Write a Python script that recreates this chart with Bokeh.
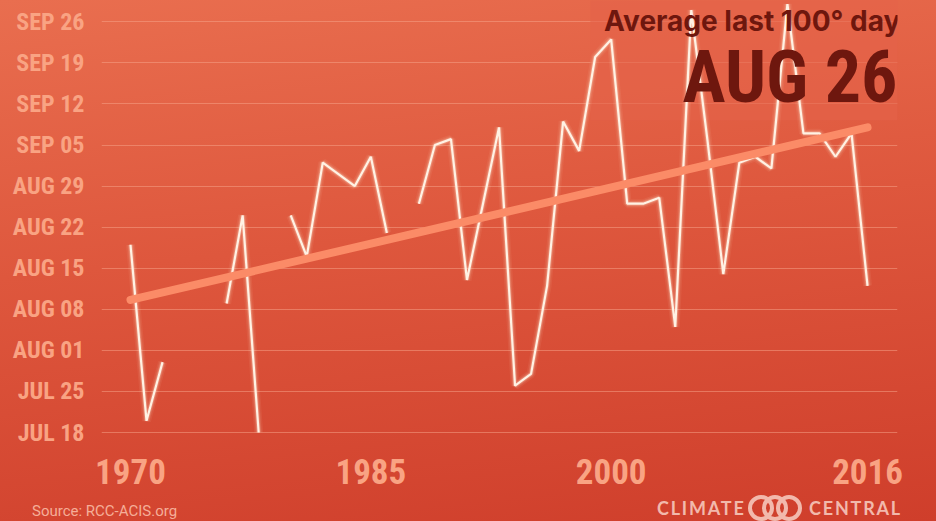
from datetime import datetime

import numpy as np
from bokeh.embed import file_html
from bokeh.layouts import column
from bokeh.models import BoxAnnotation, ColumnDataSource, Div, FixedTicker, Label, Range1d
from bokeh.plotting import figure
from bokeh.resources import INLINE

# Date of the last 100-degree day of each year (None = no 100-degree day recorded)
years = list(range(1970, 2017))
last_100_dates = [
    "Aug 19", "Jul 20", "Jul 30", None, None, None, "Aug 09", "Aug 24", "Jul 18", None,
    "Aug 24", "Aug 17", "Sep 02", "Aug 31", "Aug 29", "Sep 03", "Aug 21", None, "Aug 26", "Sep 05",
    "Sep 06", "Aug 13", "Aug 26", "Sep 08", "Jul 26", "Jul 28", "Aug 12", "Sep 09", "Sep 04", "Sep 20",
    "Sep 23", "Aug 26", "Aug 26", "Aug 27", "Aug 05", "Sep 28", "Sep 06", "Aug 14", "Sep 02", "Sep 03",
    "Sep 01", "Sep 29", "Sep 07", "Sep 07", "Sep 03", "Sep 07", "Aug 12",
]

# Linear trend, start and end of the period
trend_years = [1970, 2016]
trend_dates = ["Aug 09.6", "Sep 08.0"]

tick_labels = ["JUL 18", "JUL 25", "AUG 01", "AUG 08", "AUG 15", "AUG 22",
               "AUG 29", "SEP 05", "SEP 12", "SEP 19", "SEP 26"]
year_ticks = [1970, 1985, 2000, 2016]

average_label = "AUG 26"


def day_of_year(s):
    """'Aug 19' -> day of year in a non-leap year; fractional days allowed."""
    if s is None:
        return np.nan
    mon, day = s.split()
    base = datetime.strptime(f"2015 {mon} 01", "%Y %b %d").timetuple().tm_yday
    return base + float(day) - 1


days = [day_of_year(s) for s in last_100_dates]
trend_days = [day_of_year(s) for s in trend_dates]
tick_days = [day_of_year(s.title()) for s in tick_labels]

src = ColumnDataSource(dict(year=years, day=days))
trend_src = ColumnDataSource(dict(year=trend_years, day=trend_days))

COND_FONT = "Roboto Condensed"
LABEL_COLOR = "#F9A383"
DARK = "#6E170E"
LOGO = "#F2B9AC"

p = figure(
    width=936, height=494,
    x_range=Range1d(1968.19, 2017.87),
    y_range=Range1d(198.32, 272.63),
    output_backend="svg", toolbar_location=None,
    min_border_left=101, min_border_right=39, min_border_top=0, min_border_bottom=58,
)
p.background_fill_color = None
p.border_fill_color = None
p.outline_line_color = None

# Axes
p.yaxis.ticker = FixedTicker(ticks=tick_days)
p.yaxis.major_label_overrides = {d: lab for d, lab in zip(tick_days, tick_labels)}
p.xaxis.ticker = FixedTicker(ticks=year_ticks)
for ax in (p.xaxis, p.yaxis):
    ax.axis_line_color = None
    ax.major_tick_line_color = None
    ax.minor_tick_line_color = None
    ax.major_label_text_color = LABEL_COLOR
    ax.major_label_text_font = COND_FONT
    ax.major_label_text_font_style = "bold"
p.yaxis.major_label_text_font_size = "24px"
p.yaxis.major_label_standoff = 11
p.xaxis.major_label_text_font_size = "35px"
p.xaxis.major_label_standoff = 16

p.xgrid.visible = False
p.ygrid.ticker = FixedTicker(ticks=tick_days)
p.ygrid.grid_line_color = "#F7A68B"
p.ygrid.grid_line_alpha = 0.5
p.ygrid.grid_line_width = 1

# Headline panel, over the grid but under the data
p.add_layout(BoxAnnotation(left=1998.7, bottom=252.2, fill_color="#E4624A", fill_alpha=0.6,
                           line_color=None, level="underlay"))

# Yearly series with a soft glow
for w, a in [(9, 0.07), (6, 0.12), (4, 0.25)]:
    p.line("year", "day", source=src, line_color="#FFE3CC", line_width=w, line_alpha=a)
p.line("year", "day", source=src, line_color="#FFF2E4", line_width=2.2)

# Trend
p.line("year", "day", source=trend_src, line_color="#FB8B67", line_width=8, line_cap="round")

# Headline
p.add_layout(Label(x=2018.05, y=269.14, text="Average last 100\u00b0 day", text_align="right",
                   text_baseline="alphabetic", text_font="Inter", text_font_style="bold",
                   text_font_size="28px", text_color=DARK))
p.add_layout(Label(x=2017.87, y=259.5, text=average_label, text_align="right",
                   text_baseline="alphabetic", text_font=COND_FONT, text_font_style="bold",
                   text_font_size="72px", text_color=DARK))

# Footer: source note and logo
ring = ("position:absolute;top:1px;width:26px;height:26px;box-sizing:border-box;"
        f"border:4px solid {LOGO};border-radius:50%;")
logo_txt = (f"position:absolute;top:4px;font:bold 18px Lato;color:{LOGO};"
            "letter-spacing:1.8px;line-height:21px;white-space:nowrap;")
footer_html = f"""
<div style="position:relative;width:936px;height:27px;overflow:hidden;">
  <span style="position:absolute;left:32px;top:9px;font:15px Roboto;color:#F5AE98;
               line-height:17px;white-space:nowrap;">Source: RCC-ACIS.org</span>
  <span style="{logo_txt}left:657px;">CLIMATE</span>
  <span style="{ring}left:748px;"></span>
  <span style="{ring}left:762px;"></span>
  <span style="{ring}left:776px;"></span>
  <span style="{logo_txt}right:34px;">CENTRAL</span>
</div>
"""
footer = Div(text=footer_html, width=936, height=27, margin=0)

layout = column(p, footer, spacing=0, styles={
    "background": "linear-gradient(174deg, #E96E4F 0%, #DE573D 45%, #CF3E2B 100%)",
})

open("out.html", "w").write(file_html(layout, INLINE))
